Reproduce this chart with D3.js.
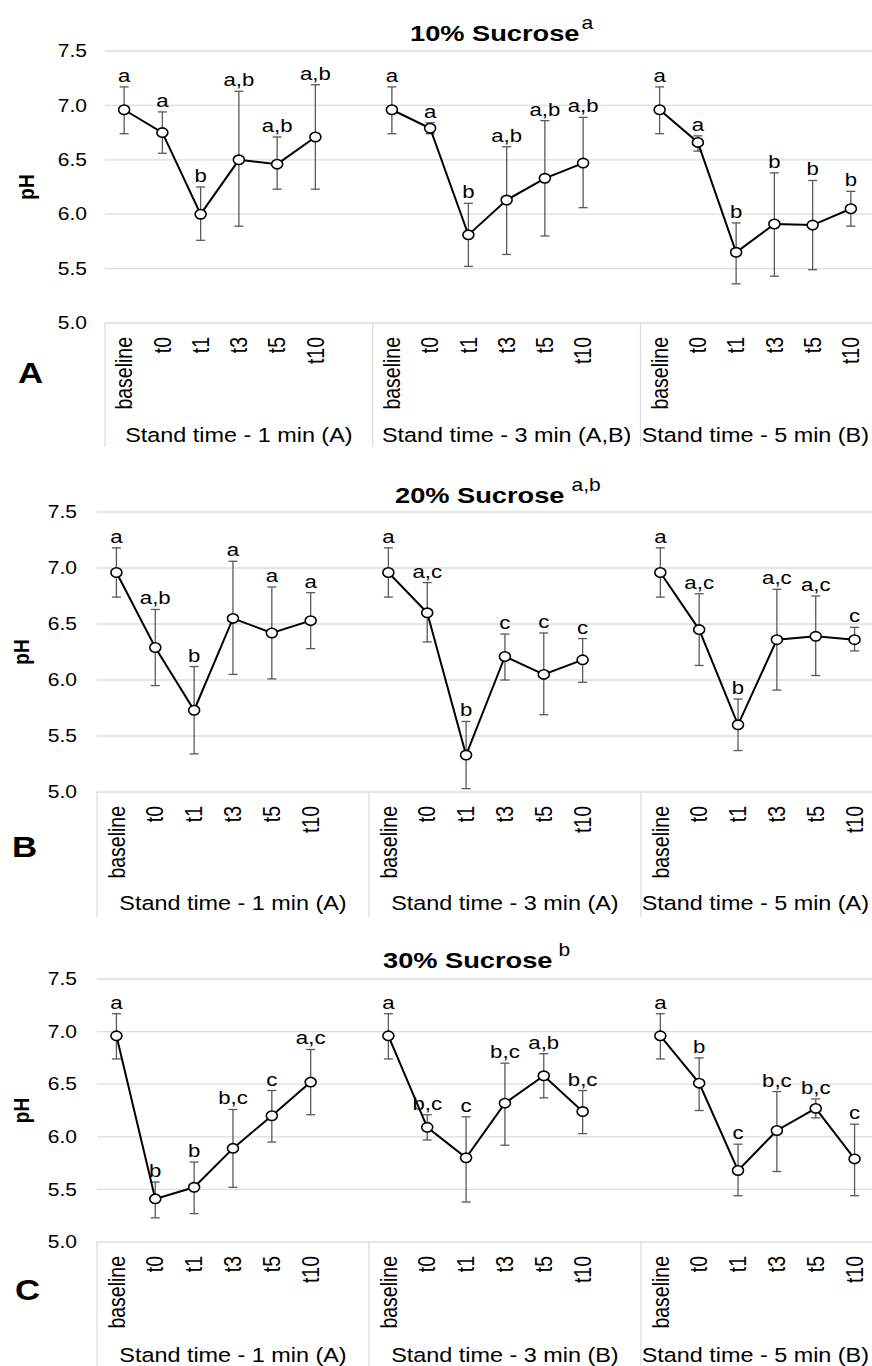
<!DOCTYPE html>
<html>
<head>
<meta charset="utf-8">
<script src="https://cdn.jsdelivr.net/npm/d3@7"></script>
<style>
  body { margin: 0; background: #fff; }
  text { font-family: "Liberation Sans", Arial, sans-serif; fill: #000; }
</style>
</head>
<body>
<svg id="chart" width="872" height="1366"></svg>
<script>
// categories
const timepoints = ["baseline", "t0", "t1", "t3", "t5", "t10"];
const yTicks = [5.0, 5.5, 6.0, 6.5, 7.0, 7.5];

// 10% sucrose
const groups10 = ["Stand time - 1 min (A)", "Stand time - 3 min (A,B)", "Stand time - 5 min (B)"];
const mean10 = [6.96, 6.75, 6.00, 6.50, 6.46, 6.71,  6.96, 6.79, 5.81, 6.13, 6.33, 6.47,  6.96, 6.66, 5.65, 5.91, 5.90, 6.05];
const hi10   = [7.17, 6.94, 6.25, 7.13, 6.71, 7.19,  7.17, 6.84, 6.10, 6.62, 6.86, 6.89,  7.17, 6.72, 5.92, 6.38, 6.31, 6.21];
const lo10   = [6.74, 6.56, 5.76, 5.89, 6.23, 6.23,  6.74, 6.74, 5.52, 5.63, 5.80, 6.06,  6.74, 6.58, 5.36, 5.43, 5.49, 5.89];
const letters10 = ["a", "a", "b", "a,b", "a,b", "a,b",  "a", "a", "b", "a,b", "a,b", "a,b",  "a", "a", "b", "b", "b", "b"];

// 20% sucrose
const groups20 = ["Stand time - 1 min (A)", "Stand time - 3 min (A)", "Stand time - 5 min (A)"];
const mean20 = [6.96, 6.29, 5.73, 6.55, 6.42, 6.53,  6.96, 6.60, 5.33, 6.21, 6.05, 6.18,  6.96, 6.45, 5.60, 6.36, 6.39, 6.36];
const hi20   = [7.18, 6.63, 6.12, 7.06, 6.83, 6.78,  7.18, 6.87, 5.63, 6.41, 6.42, 6.37,  7.18, 6.77, 5.83, 6.81, 6.75, 6.47];
const lo20   = [6.74, 5.95, 5.34, 6.05, 6.01, 6.28,  6.74, 6.34, 5.03, 6.00, 5.69, 5.98,  6.74, 6.13, 5.37, 5.91, 6.04, 6.26];
const letters20 = ["a", "a,b", "b", "a", "a", "a",  "a", "a,c", "b", "c", "c", "c",  "a", "a,c", "b", "a,c", "a,c", "c"];

// 30% sucrose
const groups30 = ["Stand time - 1 min (A)", "Stand time - 3 min (B)", "Stand time - 5 min (B)"];
const mean30 = [6.96, 5.41, 5.52, 5.89, 6.20, 6.52,  6.96, 6.09, 5.80, 6.32, 6.58, 6.24,  6.96, 6.51, 5.68, 6.06, 6.27, 5.79];
const hi30   = [7.17, 5.57, 5.76, 6.26, 6.44, 6.83,  7.17, 6.21, 6.19, 6.70, 6.79, 6.44,  7.17, 6.75, 5.93, 6.43, 6.36, 6.12];
const lo30   = [6.74, 5.23, 5.27, 5.52, 5.95, 6.21,  6.74, 5.97, 5.38, 5.92, 6.37, 6.03,  6.74, 6.25, 5.44, 5.67, 6.18, 5.44];
const letters30 = ["a", "b", "b", "b,c", "c", "a,c",  "a", "b,c", "c", "b,c", "a,b", "b,c",  "a", "b", "c", "b,c", "b,c", "c"];

// the source picture is stretched sideways, so text gets a horizontal scale
const SX = 1.2;

const panels = [
  { letter: "A", title: "10% Sucrose", sup: "a", groups: groups10, mean: mean10, hi: hi10, lo: lo10, letters: letters10,
    top: 51, bottom: 323, left: 105, slot: 38.25, titleX: 410, titleY: 41, supGap: 2,
    tickX: 87, pHx: 26, letterX: 18, letterY: 383, labelY: 442, frameBottom: 447 },
  { letter: "B", title: "20% Sucrose", sup: "a,b", groups: groups20, mean: mean20, hi: hi20, lo: lo20, letters: letters20,
    top: 512, bottom: 792, left: 97, slot: 38.85, titleX: 395, titleY: 503, supGap: 7,
    tickX: 77, pHx: 21, letterX: 12, letterY: 857, labelY: 910, frameBottom: 917 },
  { letter: "C", title: "30% Sucrose", sup: "b", groups: groups30, mean: mean30, hi: hi30, lo: lo30, letters: letters30,
    top: 979, bottom: 1242, left: 97, slot: 38.85, titleX: 383, titleY: 968, supGap: 6,
    tickX: 77, pHx: 21, letterX: 15, letterY: 1300, labelY: 1362, frameBottom: 1366 }
];

const svg = d3.select("#chart");
svg.append("rect").attr("width", 872).attr("height", 1366).attr("fill", "#fff");

function stext(g, x, y, str, size, weight, anchor, rot) {
  return g.append("text")
    .attr("transform", `translate(${x},${y}) scale(${SX},1)` + (rot ? ` rotate(${rot})` : ""))
    .attr("font-size", size)
    .attr("font-weight", weight || "normal")
    .attr("text-anchor", anchor || "start")
    .text(str);
}

panels.forEach(p => {
  const g = svg.append("g");

  // one band per time point, plus an empty band closing each stand-time group
  const keys = [];
  p.groups.forEach((grp, gi) => {
    timepoints.forEach(t => keys.push(gi + "|" + t));
    keys.push(gi + "|gap");
  });
  const x = d3.scaleBand().domain(keys).range([p.left, p.left + keys.length * p.slot]).padding(0);
  const y = d3.scaleLinear().domain([5, 7.5]).range([p.bottom, p.top]);
  const right = p.left + keys.length * p.slot;

  // gridlines
  g.append("g").selectAll("line")
    .data(yTicks)
    .join("line")
    .attr("x1", p.left).attr("x2", right)
    .attr("y1", d => y(d)).attr("y2", d => y(d))
    .attr("stroke", "#dcdcdc").attr("stroke-width", 1.3);

  // y tick labels
  yTicks.forEach(v => {
    stext(g, p.tickX, y(v), d3.format(".1f")(v), 17.5, "normal", "end").attr("dy", "0.35em");
  });

  // group frame lines under the axis
  const dividers = p.groups.map((grp, gi) => x(gi + "|baseline"));
  g.append("g").selectAll("line")
    .data(dividers)
    .join("line")
    .attr("x1", d => d).attr("x2", d => d)
    .attr("y1", p.bottom).attr("y2", p.frameBottom)
    .attr("stroke", "#dcdcdc").attr("stroke-width", 1.3);

  // rotated category labels
  keys.filter(k => !k.endsWith("gap")).forEach(k => {
    const t = k.split("|")[1];
    stext(g, x(k) + x.bandwidth() / 2, p.bottom + 14, t, 19.5, "normal", "end", -90).attr("dy", "0.35em");
  });

  // group labels
  p.groups.forEach((grp, gi) => {
    const x0 = x(gi + "|baseline");
    const x1 = x(gi + "|gap") + x.bandwidth();
    const t = stext(g, (x0 + x1) / 2, p.labelY, grp, 19.5, "normal", "middle");
    const w = t.node().getComputedTextLength() * SX;
    let cx = (x0 + x1) / 2;
    if (cx + w / 2 > 869) cx = 869 - w / 2;
    t.attr("transform", `translate(${cx},${p.labelY}) scale(${SX},1)`);
  });

  // title with superscript
  const tt = stext(g, p.titleX, p.titleY, p.title, 22.7, "bold", "start");
  const tw = tt.node().getComputedTextLength() * SX;
  stext(g, p.titleX + tw + p.supGap, p.titleY - 12, p.sup, 17.5, "normal", "start");

  // axis title and panel letter
  stext(g, p.pHx, (p.top + p.bottom) / 2, "pH", 19, "bold", "middle", -90).attr("dy", "0.35em");
  stext(g, p.letterX, p.letterY, p.letter, 29, "bold", "start");

  // series data, split per stand-time group
  const pts = keys.filter(k => !k.endsWith("gap")).map((k, i) => ({
    key: k, grp: +k.split("|")[0],
    cx: x(k) + x.bandwidth() / 2,
    m: p.mean[i], hi: p.hi[i], lo: p.lo[i], lab: p.letters[i]
  }));

  // error bars
  const eb = g.append("g").attr("stroke", "#595959").attr("stroke-width", 1.3);
  eb.selectAll(".stem").data(pts).join("line")
    .attr("x1", d => d.cx).attr("x2", d => d.cx)
    .attr("y1", d => y(d.hi)).attr("y2", d => y(d.lo));
  eb.selectAll(".capT").data(pts).join("line")
    .attr("x1", d => d.cx - 4.5).attr("x2", d => d.cx + 4.5)
    .attr("y1", d => y(d.hi)).attr("y2", d => y(d.hi));
  eb.selectAll(".capB").data(pts).join("line")
    .attr("x1", d => d.cx - 4.5).attr("x2", d => d.cx + 4.5)
    .attr("y1", d => y(d.lo)).attr("y2", d => y(d.lo));

  // connecting lines
  const line = d3.line().x(d => d.cx).y(d => y(d.m));
  d3.range(3).forEach(gi => {
    g.append("path")
      .datum(pts.filter(d => d.grp === gi))
      .attr("d", line)
      .attr("fill", "none").attr("stroke", "#000").attr("stroke-width", 2);
  });

  // markers
  g.append("g").selectAll("ellipse")
    .data(pts)
    .join("ellipse")
    .attr("cx", d => d.cx).attr("cy", d => y(d.m))
    .attr("rx", 5.5).attr("ry", 4.7)
    .attr("fill", "#fff").attr("stroke", "#000").attr("stroke-width", 1.6);

  // significance letters
  pts.forEach(d => {
    stext(g, d.cx, y(d.hi) - 5, d.lab, 18.5, "normal", "middle");
  });
});
</script>
</body>
</html>
